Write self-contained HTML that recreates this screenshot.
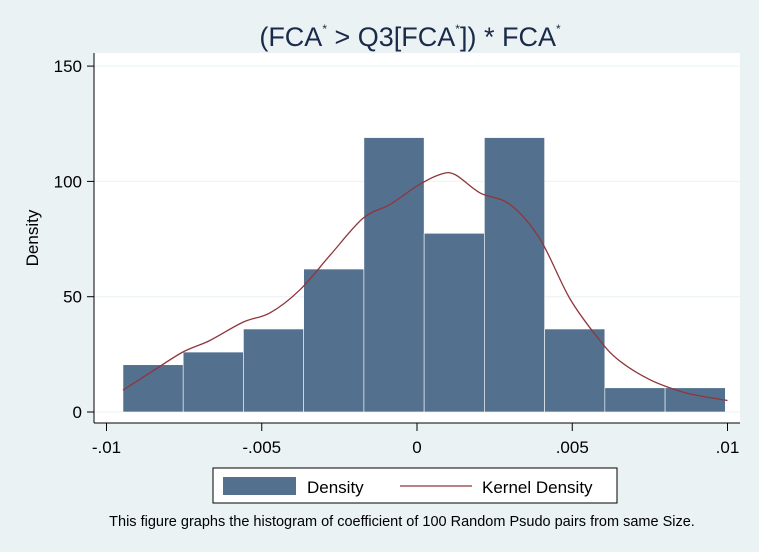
<!DOCTYPE html>
<html><head><meta charset="utf-8"><style>
body{margin:0;background:#eaf2f3;}
svg{display:block;font-family:"Liberation Sans",sans-serif;}
</style></head><body>
<svg id="c" width="759" height="552">
<rect width="759" height="552" fill="#eaf2f3"/>
<rect x="94" y="53" width="646" height="370" fill="#fff"/>
<g id="grid"></g><g id="bars"></g><path id="kd" fill="none" stroke="#90353b" stroke-width="1.3"/>
<line x1="94" y1="53" x2="94" y2="423" stroke="#000"/>
<line x1="94" y1="423" x2="740" y2="423" stroke="#000"/>
<g id="ticks"></g>
<text x="38" y="238" transform="rotate(-90 38 238)" text-anchor="middle" font-size="17" fill="#000">Density</text>
<text x="410" y="46" text-anchor="middle" font-size="27" fill="#1a2a4a">(FCA<tspan font-size="12" dy="-13">*</tspan><tspan dy="13"> &gt; Q3[FCA</tspan><tspan font-size="12" dy="-13">*</tspan><tspan dy="13">]) * FCA</tspan><tspan font-size="12" dy="-13">*</tspan></text>
<g>
<rect x="213" y="468" width="404" height="35" fill="#fff" stroke="#000"/>
<rect x="223" y="477" width="73" height="18" fill="#53718f"/>
<text x="307" y="493" font-size="17">Density</text>
<line x1="400" y1="486" x2="472" y2="486" stroke="#90353b" stroke-width="1.3"/>
<text x="482" y="493" font-size="17">Kernel Density</text>
</g>
<text x="402" y="526" text-anchor="middle" font-size="14.5">This figure graphs the histogram of coefficient of 100 Random Psudo pairs from same Size.</text>
</svg>
<script>
const binStarts=[-0.00947,-0.00753,-0.00559,-0.00365,-0.00171,0.00023,0.00217,0.00411,0.00605,0.00799];
const binWidth=0.00194;
const densities=[20.5,26,36,62,119,77.5,119,36,10.5,10.5];
const kdX=[-0.00947,-0.0086,-0.00754,-0.00667,-0.0056,-0.00473,-0.00377,-0.0028,-0.00174,-0.00087,0,0.00074,0.00122,0.00203,0.003,0.00396,0.00493,0.00589,0.00654,0.0075,0.00847,0.00911,0.01];
const kdY=[9.5,17,26,31,39,43,53,68,84,90,98,103,103,95,90,75,49,31,22,14,9,7,5];
const yTicks=[0,50,100,150];
const xTicks=[-0.01,-0.005,0,0.005,0.01];
const xTickLabels=["-.01","-.005","0",".005",".01"];
const NS="http://www.w3.org/2000/svg";
const sx=v=>417+v*31050, sy=v=>412-v*2.306;
function mk(t,a,p){const e=document.createElementNS(NS,t);for(const k in a)e.setAttribute(k,a[k]);p.appendChild(e);return e;}
const grid=document.getElementById('grid'),bars=document.getElementById('bars'),ticks=document.getElementById('ticks');
yTicks.forEach(v=>{
 const g=mk('line',{x1:94,x2:740,y1:sy(v),y2:sy(v),stroke:'#eaf2f3'},grid);
 
 
 const t=mk('line',{x1:87,x2:94,y1:sy(v),y2:sy(v),stroke:'#000'},ticks);
 
 
 const l=mk('text',{x:82,y:sy(v)+6,'text-anchor':'end','font-size':17},ticks);l.textContent=v;
 
 
});
xTicks.forEach((v,i)=>{
 const t=mk('line',{x1:sx(v),x2:sx(v),y1:423,y2:431,stroke:'#000'},ticks);
 
 
 const l=mk('text',{x:sx(v),y:453,'text-anchor':'middle','font-size':17},ticks);l.textContent=xTickLabels[i];
 
 
});
densities.forEach((d,i)=>{
 const x0=sx(binStarts[i]),x1=sx(binStarts[i]+binWidth);
 const r=mk('rect',{x:x0,y:sy(d),width:x1-x0,height:sy(0)-sy(d),fill:'#53718f',stroke:'#fff','stroke-width':0.6},bars);
 
 
});
const P=kdX.map((x,i)=>[sx(x),sy(kdY[i])]);
let d='M'+P[0][0].toFixed(1)+' '+P[0][1].toFixed(1);
for(let i=0;i<P.length-1;i++){
 const p0=P[Math.max(0,i-1)],p1=P[i],p2=P[i+1],p3=P[Math.min(P.length-1,i+2)];
 const c1=[p1[0]+(p2[0]-p0[0])/6,p1[1]+(p2[1]-p0[1])/6],c2=[p2[0]-(p3[0]-p1[0])/6,p2[1]-(p3[1]-p1[1])/6];
 d+='C'+c1.map(n=>n.toFixed(1)).join(' ')+' '+c2.map(n=>n.toFixed(1)).join(' ')+' '+p2.map(n=>n.toFixed(1)).join(' ');
}
document.getElementById('kd').setAttribute('d',d);
</script>
</body></html>
